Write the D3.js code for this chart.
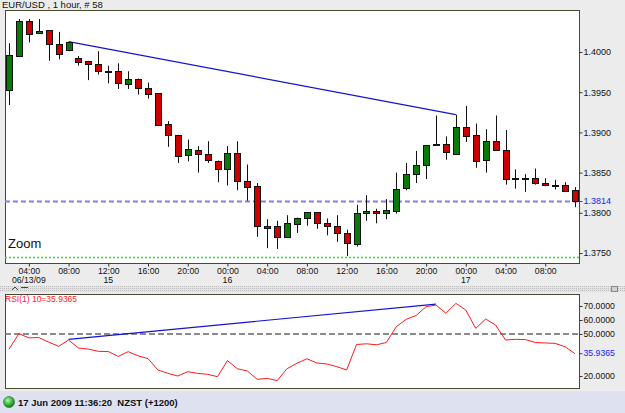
<!DOCTYPE html>
<html>
<head>
<meta charset="utf-8">
<script src="https://cdn.jsdelivr.net/npm/d3@7"></script>
<style>
    body { margin: 0; background: #ececec; }
    svg text { font-family: "Liberation Sans", Arial, sans-serif; }
</style>
</head>
<body>
<div id="chart-area"></div>
<script>

// EUR/USD hourly candles, 58 bars (02:00 on the first day to 11:00 on the 17th)
var openVals = [
    1.3952, 1.3995, 1.4039, 1.4023, 1.4027, 1.4010, 1.4003, 1.3993, 1.3989, 1.3985,
    1.3976, 1.3976, 1.3961, 1.3967, 1.3955, 1.3949, 1.3910, 1.3897, 1.3871, 1.3878,
    1.3873, 1.3865, 1.3855, 1.3875, 1.3840, 1.3833, 1.3784, 1.3784, 1.3770, 1.3787,
    1.3794, 1.3801, 1.3787, 1.3783, 1.3775, 1.3762, 1.3799, 1.3802, 1.3799, 1.3803,
    1.3830, 1.3848, 1.3859, 1.3884, 1.3885, 1.3874, 1.3907, 1.3897, 1.3865, 1.3889,
    1.3878, 1.3843, 1.3843, 1.3843, 1.3837, 1.3835, 1.3835, 1.3828
];
var highVals = [
    1.4011, 1.4041, 1.4041, 1.4041, 1.4027, 1.4025, 1.4013, 1.3995, 1.3989, 1.4001,
    1.3983, 1.3986, 1.3976, 1.3967, 1.3962, 1.3949, 1.3914, 1.3897, 1.3891, 1.3883,
    1.3889, 1.3865, 1.3883, 1.3889, 1.3860, 1.3837, 1.3792, 1.3790, 1.3797, 1.3794,
    1.3801, 1.3801, 1.3793, 1.3797, 1.3779, 1.3810, 1.3822, 1.3805, 1.3817, 1.3850,
    1.3862, 1.3877, 1.3884, 1.3921, 1.3895, 1.3922, 1.3933, 1.3911, 1.3904, 1.3921,
    1.3903, 1.3854, 1.3848, 1.3855, 1.3843, 1.3841, 1.3838, 1.3832
];
var lowVals = [
    1.3934, 1.3994, 1.4012, 1.4023, 1.3989, 1.3991, 1.4001, 1.3983, 1.3965, 1.3972,
    1.3961, 1.3954, 1.3954, 1.3947, 1.3942, 1.3908, 1.3882, 1.3862, 1.3864, 1.3850,
    1.3862, 1.3838, 1.3834, 1.3828, 1.3815, 1.3770, 1.3756, 1.3755, 1.3770, 1.3775,
    1.3784, 1.3780, 1.3772, 1.3764, 1.3746, 1.3758, 1.3790, 1.3787, 1.3792, 1.3799,
    1.3828, 1.3837, 1.3842, 1.3884, 1.3866, 1.3874, 1.3888, 1.3856, 1.3850, 1.3877,
    1.3835, 1.3830, 1.3826, 1.3835, 1.3833, 1.3829, 1.3826, 1.3807
];
var closeVals = [
    1.3996, 1.4039, 1.4023, 1.4026, 1.4010, 1.3998, 1.4013, 1.3988, 1.3985, 1.3976,
    1.3976, 1.3961, 1.3967, 1.3956, 1.3947, 1.3909, 1.3896, 1.3871, 1.3879, 1.3873,
    1.3865, 1.3855, 1.3875, 1.3840, 1.3833, 1.3783, 1.3782, 1.3770, 1.3787, 1.3794,
    1.3801, 1.3787, 1.3783, 1.3774, 1.3762, 1.3800, 1.3802, 1.3799, 1.3803, 1.3830,
    1.3848, 1.3859, 1.3884, 1.3885, 1.3875, 1.3907, 1.3896, 1.3865, 1.3889, 1.3878,
    1.3842, 1.3842, 1.3843, 1.3837, 1.3835, 1.3835, 1.3828, 1.3814
];

// RSI(10) per bar
var rsiVals = [
    39.1, 50.3, 47.2, 47.5, 44.2, 41.2, 45.7, 40.0, 39.2, 37.6,
    37.5, 34.0, 37.4, 34.4, 32.4, 24.3, 21.9, 20.0, 23.1, 21.9,
    21.2, 19.5, 31.0, 25.2, 23.6, 17.6, 18.3, 16.7, 25.2, 29.1,
    32.3, 29.3, 28.6, 26.7, 24.3, 42.5, 43.0, 42.3, 43.9, 55.2,
    60.5, 63.2, 69.5, 70.7, 64.8, 71.9, 67.1, 54.0, 60.7, 56.4,
    45.7, 46.2, 46.0, 43.9, 43.6, 43.3, 40.9, 35.9365
];

// x-axis ticks (bar index -> label)
var hourTickIdx = [2, 6, 10, 14, 18, 22, 26, 30, 34, 38, 42, 46, 50, 54];
var hourTickLabels = ["04:00", "08:00", "12:00", "16:00", "20:00", "00:00", "04:00",
    "08:00", "12:00", "16:00", "20:00", "00:00", "04:00", "08:00"];
var dateTickIdx = [2, 10, 22, 46];
var dateTickLabels = ["06/13/09", "15", "16", "17"];

var priceTicks = [1.4000, 1.3950, 1.3900, 1.3850, 1.3800, 1.3750];
var rsiTicks = [70, 60, 50, 20];

// drawn objects
var lastPrice = 1.3814;
var zoomLevel = 1.3745;
var priceTrendIdx = [6, 45];
var priceTrendVals = [1.4013, 1.3922];
var rsiTrendIdx = [6, 43];
var rsiTrendVals = [46.2, 71.4];
var rsiMidLevel = 50;

var titleText = "EUR/USD , 1 hour, # 58";
var rsiLabel = "RSI(1) 10=35.9365";
var statusText = "17 Jun 2009 11:36:20  NZST (+1200)";


CandleChart = function(_parentElement) {
    this.parentElement = _parentElement;
    this.displayData = [];
    this.initVis();
};

CandleChart.prototype.initVis = function() {
    var vis = this;

    vis.width = 625;
    vis.height = 413;

    // panel boxes
    vis.main = {left: 5, right: 579, top: 10, bottom: 263};
    vis.sub = {left: 5, right: 579, top: 294, bottom: 388};

    vis.svg = d3.select("#" + vis.parentElement).append("svg")
        .attr("width", vis.width)
        .attr("height", vis.height);

    vis.svg.append("rect")
        .attr("width", vis.width).attr("height", vis.height)
        .attr("fill", "#ececec");

    // x scale shared by both panels
    vis.x = d3.scaleLinear()
        .domain([-0.4, openVals.length - 0.6])
        .range([vis.main.left, vis.main.right]);

    vis.y = d3.scaleLinear()
        .domain([1.375, 1.400])
        .range([253, 52]);

    vis.yRsi = d3.scaleLinear()
        .domain([20, 70])
        .range([376, 306]);

    vis.wrangleData();
};

CandleChart.prototype.wrangleData = function() {
    var vis = this;
    vis.displayData = openVals.map(function(o, i) {
        return {i: i, open: o, high: highVals[i], low: lowVals[i], close: closeVals[i], rsi: rsiVals[i]};
    });
    vis.updateVis();
};

CandleChart.prototype.panel = function(box, id) {
    var vis = this;
    vis.svg.append("clipPath").attr("id", id)
        .append("rect")
        .attr("x", box.left).attr("y", box.top)
        .attr("width", box.right - box.left).attr("height", box.bottom - box.top);
    vis.svg.append("rect")
        .attr("x", box.left + 0.5).attr("y", box.top + 0.5)
        .attr("width", box.right - box.left).attr("height", box.bottom - box.top)
        .attr("fill", "#ffffff")
        .attr("stroke", "#4a4a30");
    return vis.svg.append("g").attr("clip-path", "url(#" + id + ")");
};

CandleChart.prototype.updateVis = function() {
    var vis = this;
    var px = function(i) { return Math.round(vis.x(i)) + 0.5; };

    // title
    vis.svg.append("text")
        .attr("x", 2).attr("y", 8)
        .attr("font-size", "9.5px")
        .attr("fill", "#111")
        .text(titleText);

    // ---- main price panel ----
    var g = vis.panel(vis.main, "clip-main");

    g.append("line")
        .attr("x1", vis.main.left).attr("x2", vis.main.right)
        .attr("y1", vis.y(lastPrice)).attr("y2", vis.y(lastPrice))
        .attr("stroke", "#7f7ff5").attr("stroke-width", 2)
        .attr("stroke-dasharray", "5,3");

    g.append("line")
        .attr("x1", vis.main.left).attr("x2", vis.main.right)
        .attr("y1", Math.round(vis.y(zoomLevel)) + 0.5).attr("y2", Math.round(vis.y(zoomLevel)) + 0.5)
        .attr("stroke", "#22e622").attr("stroke-width", 1.5)
        .attr("stroke-dasharray", "2,2");

    g.append("line")
        .attr("x1", vis.x(priceTrendIdx[0])).attr("x2", vis.x(priceTrendIdx[1]))
        .attr("y1", vis.y(priceTrendVals[0])).attr("y2", vis.y(priceTrendVals[1]))
        .attr("stroke", "#1414d0").attr("stroke-width", 1.2);

    var candles = g.selectAll(".candle")
        .data(vis.displayData)
        .enter().append("g")
        .attr("class", "candle");

    candles.append("line")
        .attr("x1", function(d) { return px(d.i); })
        .attr("x2", function(d) { return px(d.i); })
        .attr("y1", function(d) { return vis.y(d.high); })
        .attr("y2", function(d) { return vis.y(d.low); })
        .attr("stroke", "#111");

    candles.append("rect")
        .attr("x", function(d) { return px(d.i) - 3; })
        .attr("width", 6)
        .attr("y", function(d) { return Math.round(vis.y(Math.max(d.open, d.close))) + 0.5; })
        .attr("height", function(d) {
            return Math.max(1, Math.round(Math.abs(vis.y(d.open) - vis.y(d.close))));
        })
        .attr("fill", function(d) { return d.close >= d.open ? "#087a08" : "#cc0000"; })
        .attr("stroke", "#111");

    vis.svg.append("text")
        .attr("x", 8).attr("y", 248)
        .attr("font-size", "13px")
        .attr("fill", "#111")
        .text("Zoom");

    // right price axis
    var yAxis = d3.axisRight(vis.y)
        .tickValues(priceTicks)
        .tickFormat(d3.format(".4f"))
        .tickSize(3)
        .tickPadding(1);
    var ya = vis.svg.append("g")
        .attr("transform", "translate(" + (vis.main.right + 0.5) + ",0)")
        .call(yAxis);
    ya.select(".domain").remove();
    ya.selectAll("text").attr("font-size", "9px").attr("fill", "#111").attr("font-family", null);
    ya.selectAll("line").attr("stroke", "#333");

    var lp = vis.svg.append("g")
        .attr("transform", "translate(" + (vis.main.right + 0.5) + "," + vis.y(lastPrice) + ")");
    lp.append("line").attr("x2", 3).attr("stroke", "#3333ff");
    lp.append("text").attr("x", 4).attr("dy", "0.32em")
        .attr("font-size", "9px").attr("fill", "#2020ff")
        .text(d3.format(".4f")(lastPrice));

    // bottom time axis
    var xAxis = d3.axisBottom(vis.x)
        .tickValues(hourTickIdx)
        .tickFormat(function(d, i) { return hourTickLabels[i]; })
        .tickSize(3)
        .tickPadding(1);
    var xa = vis.svg.append("g")
        .attr("transform", "translate(0," + (vis.main.bottom + 0.5) + ")")
        .call(xAxis);
    xa.select(".domain").remove();
    xa.selectAll("text").attr("font-size", "8.7px").attr("fill", "#111").attr("font-family", null);
    xa.selectAll("line").attr("stroke", "#333");

    vis.svg.selectAll(".date-label")
        .data(dateTickIdx)
        .enter().append("text")
        .attr("class", "date-label")
        .attr("x", function(d) { return vis.x(d); })
        .attr("y", 283)
        .attr("text-anchor", "middle")
        .attr("font-size", "8.7px")
        .attr("fill", "#111")
        .text(function(d, i) { return dateTickLabels[i]; });

    // splitter between panels
    var pat = vis.svg.append("pattern")
        .attr("id", "dots").attr("width", 2).attr("height", 2)
        .attr("patternUnits", "userSpaceOnUse");
    pat.append("rect").attr("width", 2).attr("height", 2).attr("fill", "#e4e4e4");
    pat.append("rect").attr("width", 1).attr("height", 1).attr("fill", "#bdbdbd");
    vis.svg.append("rect")
        .attr("x", 0).attr("y", 286).attr("width", vis.width).attr("height", 6)
        .attr("fill", "url(#dots)");
    vis.svg.append("path")
        .attr("d", "M12,290 L15,287 L18,290 M21,287.5 L28,287.5")
        .attr("stroke", "#444").attr("fill", "none");
    vis.svg.append("rect")
        .attr("x", 611.5).attr("y", 286.5).attr("width", 6).attr("height", 5)
        .attr("fill", "#d0d0d0").attr("stroke", "#888");

    // ---- RSI panel ----
    var r = vis.panel(vis.sub, "clip-rsi");

    r.append("line")
        .attr("x1", vis.sub.left).attr("x2", vis.sub.right)
        .attr("y1", vis.yRsi(rsiMidLevel)).attr("y2", vis.yRsi(rsiMidLevel))
        .attr("stroke", "#666").attr("stroke-width", 1.5)
        .attr("stroke-dasharray", "6,3");

    r.append("line")
        .attr("x1", vis.x(rsiTrendIdx[0])).attr("x2", vis.x(rsiTrendIdx[1]))
        .attr("y1", vis.yRsi(rsiTrendVals[0])).attr("y2", vis.yRsi(rsiTrendVals[1]))
        .attr("stroke", "#1414d0").attr("stroke-width", 1.2);

    var rsiLine = d3.line()
        .x(function(d) { return vis.x(d.i); })
        .y(function(d) { return vis.yRsi(d.rsi); });

    r.append("path")
        .datum(vis.displayData)
        .attr("d", rsiLine)
        .attr("fill", "none")
        .attr("stroke", "#ff1a1a")
        .attr("stroke-width", 1);

    vis.svg.append("text")
        .attr("x", 5).attr("y", 302)
        .attr("font-size", "8.5px")
        .attr("fill", "#ff2020")
        .text(rsiLabel);

    var rAxis = d3.axisRight(vis.yRsi)
        .tickValues(rsiTicks)
        .tickFormat(d3.format(".4f"))
        .tickSize(3)
        .tickPadding(1);
    var ra = vis.svg.append("g")
        .attr("transform", "translate(" + (vis.sub.right + 0.5) + ",0)")
        .call(rAxis);
    ra.select(".domain").remove();
    ra.selectAll("text").attr("font-size", "8.7px").attr("fill", "#111").attr("font-family", null);
    ra.selectAll("line").attr("stroke", "#333");

    var lastRsi = rsiVals[rsiVals.length - 1];
    var lr = vis.svg.append("g")
        .attr("transform", "translate(" + (vis.sub.right + 0.5) + "," + vis.yRsi(lastRsi) + ")");
    lr.append("line").attr("x2", 3).attr("stroke", "#3333ff");
    lr.append("text").attr("x", 4).attr("dy", "0.32em")
        .attr("font-size", "8.7px").attr("fill", "#2020ff")
        .text(d3.format(".4f")(lastRsi));

    // ---- status bar ----
    vis.svg.append("rect")
        .attr("x", 0).attr("y", 391).attr("width", vis.width).attr("height", 22)
        .attr("fill", "#dde1f0");

    var grad = vis.svg.append("radialGradient")
        .attr("id", "led").attr("cx", "40%").attr("cy", "35%").attr("r", "65%");
    grad.append("stop").attr("offset", "0%").attr("stop-color", "#b6f5b0");
    grad.append("stop").attr("offset", "60%").attr("stop-color", "#35b83a");
    grad.append("stop").attr("offset", "100%").attr("stop-color", "#17731d");
    vis.svg.append("circle")
        .attr("cx", 9).attr("cy", 402).attr("r", 5.5)
        .attr("fill", "url(#led)").attr("stroke", "#2b6b2e").attr("stroke-width", 0.6);

    vis.svg.append("text")
        .attr("x", 18).attr("y", 406)
        .attr("font-size", "9.5px")
        .attr("font-weight", "bold")
        .attr("fill", "#111")
        .attr("xml:space", "preserve")
        .text(statusText);
};

var chart = new CandleChart("chart-area");

</script>
</body>
</html>
